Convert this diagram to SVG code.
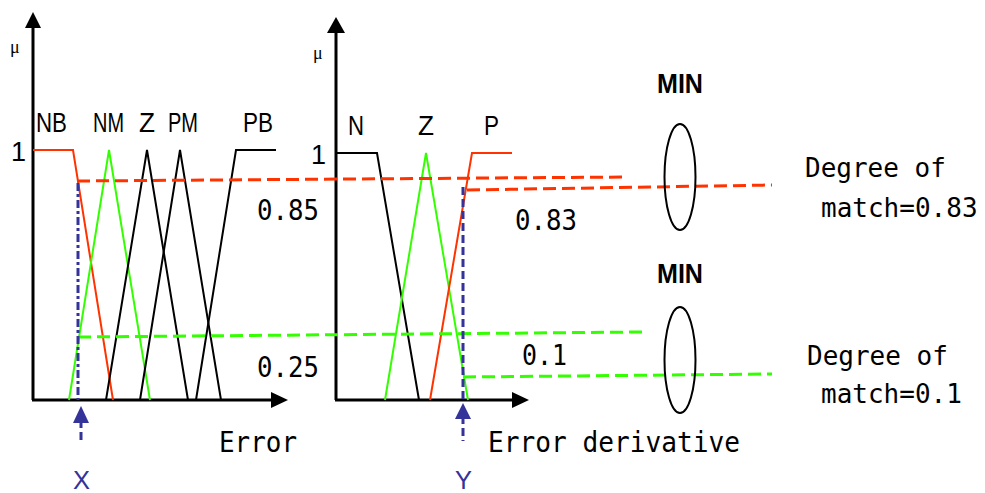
<svg xmlns="http://www.w3.org/2000/svg" width="985" height="493" viewBox="0 0 985 493">
<style>
.ax{stroke:#000;stroke-width:3;fill:none}
.bk{stroke:#000;stroke-width:2;fill:none}
.rd{stroke:#ff3300;stroke-width:2;fill:none}
.gn{stroke:#33ff00;stroke-width:2;fill:none}
.rdd{stroke:#ff3300;stroke-width:3;fill:none;stroke-dasharray:13 6}
.gnd{stroke:#33ff00;stroke-width:3;fill:none;stroke-dasharray:13 6}
.bl{stroke:#333399;stroke-width:3;fill:none;stroke-dasharray:8 4}
.bldd{stroke:#333399;stroke-width:3;fill:none;stroke-dasharray:8 3 3 3}
.t{font-family:"Liberation Sans",Arial,sans-serif;font-size:27px;fill:#000}
.m{font-family:"DejaVu Sans Mono","Liberation Mono",monospace;font-size:28px;fill:#000}
.r{font-family:"DejaVu Sans Mono","Liberation Mono",monospace;font-size:26px;fill:#000}
.mu{font-family:"Liberation Serif",serif;font-size:18px;fill:#000}
.b{font-family:"Liberation Sans",Arial,sans-serif;font-size:27px;font-weight:bold;fill:#000}
.bt{font-family:"Liberation Sans",Arial,sans-serif;font-size:25px;fill:#333399}
</style>
<g id="error-axes">
<line class="ax" x1="33" y1="400" x2="33" y2="26"/>
<polygon points="33,12 25,28 41,28" fill="#000"/>
<line class="ax" x1="32" y1="400" x2="273" y2="400"/>
<polygon points="288,400 271,392 271,408" fill="#000"/>
<text class="mu" x="10" y="53">μ</text>
<text class="t" x="11" y="161">1</text>
</g>
<g id="error-mfs">
<polyline class="rd" points="33,150 73,150 113,400"/>
<polyline class="gn" points="69,400 109,150 150,400"/>
<polyline class="bk" points="106,400 147,150 188,400"/>
<polyline class="bk" points="140,400 180,150 221,400"/>
<polyline class="bk" points="196,400 236,150 276,150"/>
<text class="t" x="36" y="132" textLength="31" lengthAdjust="spacingAndGlyphs">NB</text>
<text class="t" x="93" y="132" textLength="31" lengthAdjust="spacingAndGlyphs">NM</text>
<text class="t" x="139" y="132" textLength="16" lengthAdjust="spacingAndGlyphs">Z</text>
<text class="t" x="168" y="132" textLength="30" lengthAdjust="spacingAndGlyphs">PM</text>
<text class="t" x="243" y="132" textLength="30" lengthAdjust="spacingAndGlyphs">PB</text>
<text class="m" x="257" y="220" textLength="62" lengthAdjust="spacingAndGlyphs">0.85</text>
<text class="m" x="257" y="377" textLength="62" lengthAdjust="spacingAndGlyphs">0.25</text>
<text class="m" x="219" y="452" textLength="78" lengthAdjust="spacingAndGlyphs">Error</text>
</g>
<g id="derivative-axes">
<line class="ax" x1="336" y1="400" x2="336" y2="31"/>
<polygon points="336,17 327,33 345,33" fill="#000"/>
<line class="ax" x1="335" y1="400" x2="514" y2="400"/>
<polygon points="529,400 512,392 512,408" fill="#000"/>
<text class="mu" x="313" y="59">μ</text>
<text class="t" x="311" y="164">1</text>
</g>
<g id="derivative-mfs">
<polyline class="bk" points="336,153 377,153 419,400"/>
<polyline class="gn" points="385,400 426,153 468,400"/>
<polyline class="rd" points="430,400 472,153 512,153"/>
<text class="t" x="348" y="135" textLength="16" lengthAdjust="spacingAndGlyphs">N</text>
<text class="t" x="418" y="135" textLength="16" lengthAdjust="spacingAndGlyphs">Z</text>
<text class="t" x="484" y="135" textLength="15" lengthAdjust="spacingAndGlyphs">P</text>
<text class="m" x="515" y="230" textLength="62" lengthAdjust="spacingAndGlyphs">0.83</text>
<text class="m" x="522" y="365" textLength="45" lengthAdjust="spacingAndGlyphs">0.1</text>
<text class="m" x="488" y="452" textLength="252" lengthAdjust="spacingAndGlyphs">Error derivative</text>
</g>
<g id="connectors">
<line class="rdd" x1="77" y1="181" x2="628" y2="177"/>
<line class="rdd" x1="467" y1="190" x2="772" y2="185"/>
<line class="gnd" x1="78" y1="337" x2="642" y2="332"/>
<line class="gnd" x1="463" y1="377" x2="772" y2="374"/>
<line class="bldd" x1="78" y1="183" x2="78" y2="400"/>
<line class="bl" x1="81" y1="420" x2="81" y2="440"/>
<polygon points="81,406 73,423 89,423" fill="#333399"/>
<line class="bl" x1="463" y1="187" x2="463" y2="400"/>
<line class="bl" x1="463" y1="416" x2="463" y2="441"/>
<polygon points="463,403 455,419 471,419" fill="#333399"/>
<text class="bt" x="73" y="489" textLength="17" lengthAdjust="spacingAndGlyphs">X</text>
<text class="bt" x="455" y="489" textLength="17" lengthAdjust="spacingAndGlyphs">Y</text>
</g>
<g id="min1">
<text class="b" x="657" y="93" textLength="46" lengthAdjust="spacingAndGlyphs">MIN</text>
<ellipse cx="680" cy="177" rx="15.5" ry="53" fill="none" stroke="#000" stroke-width="2"/>
</g>
<g id="min2">
<text class="b" x="657" y="283" textLength="46" lengthAdjust="spacingAndGlyphs">MIN</text>
<ellipse cx="680" cy="360" rx="15.5" ry="53" fill="none" stroke="#000" stroke-width="2"/>
</g>
<g id="result1">
<text class="r" x="805" y="177">Degree of</text>
<text class="r" x="821" y="217">match=0.83</text>
</g>
<g id="result2">
<text class="r" x="807" y="365">Degree of</text>
<text class="r" x="821" y="403">match=0.1</text>
</g>
</svg>
